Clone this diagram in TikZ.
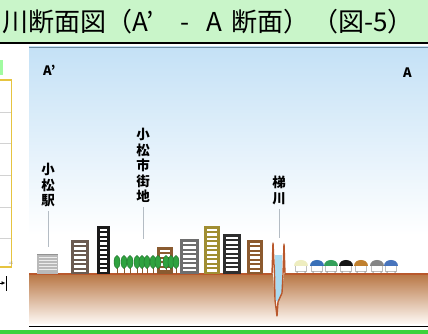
\documentclass[tikz,border=0pt]{standalone}
\usepackage{fontspec}
\newfontfamily\jp{Noto Sans CJK JP}
\usetikzlibrary{arrows.meta}
\definecolor{titlegreen}{HTML}{C9F5C9}
\definecolor{bandgreen}{HTML}{3DD23D}
\definecolor{skytop}{HTML}{C4E1F6}
\definecolor{panelline}{HTML}{6C8AA0}
\definecolor{groundtop}{HTML}{B87644}
\definecolor{groundbot}{HTML}{FDF7F2}
\definecolor{groundline}{HTML}{B9582C}
\definecolor{water}{HTML}{A9DAF0}
\definecolor{leadergray}{HTML}{B4BCC4}
\definecolor{panelyellow}{HTML}{E6C440}
\definecolor{treegreen}{HTML}{2FA23F}
\definecolor{treeedge}{HTML}{1E6E2A}
\definecolor{trunk}{HTML}{8A5A30}
\definecolor{bldgA}{HTML}{6B5A50}
\definecolor{bldgB}{HTML}{1A1A1A}
\definecolor{bldgC}{HTML}{8A5B30}
\definecolor{bldgD}{HTML}{6E6E6E}
\definecolor{bldgE}{HTML}{A08E32}
\definecolor{bldgF}{HTML}{2E2E2E}
\definecolor{bldgG}{HTML}{8C5A2E}
\definecolor{carcream}{HTML}{EEEDC0}
\definecolor{carblue}{HTML}{3A70B8}
\definecolor{cargreen}{HTML}{34A05A}
\definecolor{carblack}{HTML}{151515}
\definecolor{carorange}{HTML}{C0802E}
\definecolor{cargray}{HTML}{858585}
\definecolor{carblue2}{HTML}{4874BC}

\begin{document}
\begin{tikzpicture}[x=1pt, y=-1pt,
		titletext/.style={font=\jp\fontsize{26}{26}\selectfont, anchor=base west, inner sep=0pt},
		tate/.style={font=\jp\bfseries\fontsize{13.5}{15.5}\selectfont, align=center, inner sep=0pt, anchor=north},
		leader/.style={draw=leadergray, line width=1pt},
		river/.style={draw=groundline, line width=1.4pt, line join=round}]
	\useasboundingbox (0,0) rectangle (428,334);

	% title band
	\fill[titlegreen] (0,0) rectangle (428,43);
	\draw[black, line width=1.2pt] (0,43) -- (428,43);
	\node[titletext] (title1) at (2,32) {川断面図（A’};
	\node[titletext] (title2) at (180,32) {-};
	\node[titletext] (title3) at (206,32) {A\hspace{9pt}断面）};
	\node[titletext] (title4) at (312,32) {（図-5）};

	% left panel
	\fill[titlegreen!60!green!70] (-2,60) rectangle (3,75);
	\draw[panelyellow, line width=1.5pt] (-5,80) rectangle (11.5,267);
	\foreach \gy in {112,143,175,207,238}
		\draw[gray!35, line width=0.6pt] (-5,\gy) -- (10.7,\gy);
	\node[font=\fontsize{3.5}{4}\selectfont, text=gray, inner sep=0pt] (scalenum) at (11,263) {45};
	\draw[-{Latex[length=4pt,width=4pt]}, line width=0.8pt] (-4,283) -- (5.5,283);
	\draw[line width=0.9pt] (6.5,276) -- (6.5,291);

	% sky and ground
	\shade[top color=skytop, bottom color=white] (29,47) rectangle (428,235);
	\fill[white] (29,235) rectangle (428,274);
	\draw[panelline, line width=1.2pt] (29,47.5) -- (428,47.5);
	\shade[top color=groundtop, bottom color=groundbot] (29,274) rectangle (428,323);
	\draw[black, line width=1pt] (29,326) -- (428,326);
	\fill[bandgreen] (0,330) rectangle (428,334);

	% river channel
	\fill[white] (273,274) -- (284,274) -- (282,293) -- (278,302) -- (277,316) -- (275,300) -- cycle;
	\fill[water] (275,255) -- (282,255) -- (282,293) -- (278,301) -- (275.5,301) -- cycle;
	\draw[groundline, line width=1.2pt] (29,274) -- (272,274);
	\draw[groundline, line width=1.2pt] (285,274) -- (428,274);
	\draw[river] (272,274) -- (273,243) -- (274.5,274) -- (275,300) -- (277,316) -- (278,302) -- (282,293) -- (283,274) -- (284,244) -- (285,274);

	% station
	\fill[gray!55] (37,254) rectangle (58,274);
	\foreach \sy in {257.5,260.5,...,272}
		\draw[white!85!gray, line width=1pt] (38.5,\sy) -- (56.5,\sy);
	\draw[gray!85, line width=1pt] (37,254.5) -- (58,254.5);

	% buildings
	\foreach \xl/\xr/\yt/\col in {71/89/240/bldgA, 97/110/226/bldgB, 157/173/247/bldgC, 180/199/239/bldgD, 204/220/226/bldgE, 223/241/234/bldgF, 247/263/240/bldgG}{
		\fill[\col] (\xl,\yt) rectangle (\xr,274);
		\pgfmathsetmacro\ya{\yt+2.5}
		\pgfmathsetmacro\yb{\yt+7}
		\foreach \yy in {\ya,\yb,...,270}
			\fill[white] (\xl+3,\yy) rectangle (\xr-3,\yy+2.6);
	}

	% trees
	\foreach \tx in {117,124,130,137,142,147,153,158,166,171,176}{
		\draw[trunk, line width=1pt] (\tx,264) -- (\tx,274);
		\filldraw[fill=treegreen, draw=treeedge, line width=0.4pt] (\tx,262) ellipse (3 and 6.5);
	}

	% cars
	\foreach \cx/\cc in {301/carcream, 317/carblue, 331/cargreen, 346/carblack, 361/carorange, 377/cargray, 391/carblue2}{
		\filldraw[fill=white, draw=gray!50, line width=0.5pt] (\cx-5.5,265) rectangle (\cx+5.5,271.5);
		\fill[\cc] (\cx-7,266) .. controls (\cx-7,257.5) and (\cx+7,257.5) .. (\cx+7,266) -- cycle;
		\fill[gray!70] (\cx-4,272) circle (1) (\cx+4,272) circle (1);
	}

	% labels
	\node[font=\jp\bfseries\fontsize{13}{13}\selectfont, anchor=north west, inner sep=0pt] (aprime) at (43,65) {A’};
	\node[font=\jp\bfseries\fontsize{13}{13}\selectfont, anchor=north west, inner sep=0pt] (apoint) at (403,68) {A};

	\node[tate] (komatsueki) at (48,163) {小\\松\\駅};
	\node[tate] (shigaichi) at (143,128) {小\\松\\市\\街\\地};
	\node[tate] (kakehashi) at (279,176) {梯\\川};
	\coordinate (ekiend) at (48,247);
	\coordinate (shigaichiend) at (143,239);
	\coordinate (kakehashiend) at (279,238);
	\draw[leader, shorten <=4pt] (komatsueki.south) -- (ekiend);
	\draw[leader, shorten <=4pt] (shigaichi.south) -- (shigaichiend);
	\draw[leader, shorten <=4pt] (kakehashi.south) -- (kakehashiend);
\end{tikzpicture}
\end{document}
